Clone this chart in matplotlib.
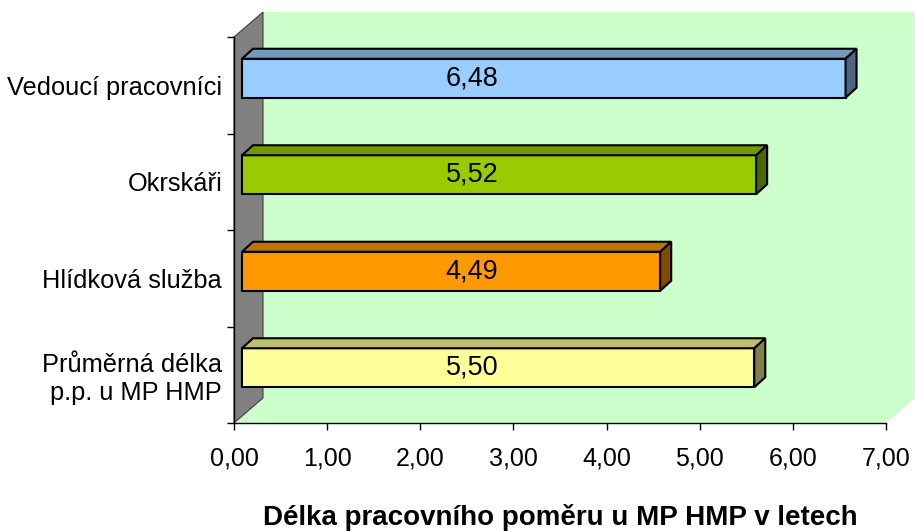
import matplotlib
matplotlib.use("Agg")
import matplotlib.pyplot as plt
from matplotlib.patches import Polygon
from matplotlib.colors import to_rgb

plt.rcParams["font.family"] = ["Liberation Sans", "DejaVu Sans"]

categories = ["Průměrná délka\np.p. u MP HMP", "Hlídková služba", "Okrskáři",
              "Vedoucí pracovníci"]
values = [5.50, 4.49, 5.52, 6.48]
colors = ["#FFFF99", "#FF9900", "#99CC00", "#99CCFF"]
xticks = [0, 1, 2, 3, 4, 5, 6, 7]
xlabel = "Délka pracovního poměru u MP HMP v letech"

W, H = 915, 531
fig = plt.figure(figsize=(W / 100, H / 100), dpi=100)
fig.patch.set_facecolor("white")

# front plane of the 3D box in pixels
L, R, T, B = 234, 886, 37, 423
ax = fig.add_axes([L / W, (H - B) / H, (R - L) / W, (B - T) / H])
ax.set_xlim(0, 7)
ax.set_ylim(0, 4)
ax.patch.set_visible(False)

PX = (R - L) / 7
PY = (B - T) / 4
DX, DY = 29 / PX, 25 / PY          # wall depth
BX, BY = 8 / PX, 7 / PY            # bar front offset
BDX, BDY = 11 / PX, 10 / PY        # bar depth
BH = 39 / PY                       # bar height

GREEN = "#CCFFCC"
# back wall + floor
ax.add_patch(Polygon([(DX, DY), (7 + DX, DY), (7 + DX, 4 + DY), (DX, 4 + DY)],
                     closed=True, fc=GREEN, ec="none", clip_on=False, zorder=0))
ax.add_patch(Polygon([(0, 0), (7, 0), (7 + DX, DY), (DX, DY)],
                     closed=True, fc=GREEN, ec="none", clip_on=False, zorder=0))
# side wall
ax.add_patch(Polygon([(0, 0), (DX, DY), (DX, 4 + DY), (0, 4)],
                     closed=True, fc="#808080", ec="#404040", lw=0.8,
                     clip_on=False, zorder=1))


def shade(c, f):
    r, g, b = to_rgb(c)
    return (r * f, g * f, b * f)


ys = [i + 0.5 for i in range(len(values))]
for y, v, c in zip(ys, values, colors):
    y0 = y + BY - BH / 2
    y1 = y + BY + BH / 2
    ax.barh(y + BY, v, height=BH, left=BX, color=c, edgecolor="black",
            linewidth=1.5, zorder=3)
    top = [(BX, y1), (BX + v, y1), (BX + v + BDX, y1 + BDY), (BX + BDX, y1 + BDY)]
    side = [(BX + v, y0), (BX + v + BDX, y0 + BDY), (BX + v + BDX, y1 + BDY),
            (BX + v, y1)]
    ax.add_patch(Polygon(top, closed=True, fc=shade(c, 0.75), ec="black",
                         lw=1.5, zorder=3, clip_on=False))
    ax.add_patch(Polygon(side, closed=True, fc=shade(c, 0.5), ec="black",
                         lw=1.5, zorder=3, clip_on=False))
    ax.text(2.555, y + BY, f"{v:.2f}".replace(".", ","), ha="center",
            va="center", fontsize=19.5, color="black", zorder=4)

for s in ("top", "right"):
    ax.spines[s].set_visible(False)
for s in ("left", "bottom"):
    ax.spines[s].set_color("black")
    ax.spines[s].set_linewidth(1.0)
    ax.spines[s].set_zorder(2)

ax.set_xticks(xticks)
ax.set_xticklabels([f"{t:.2f}".replace(".", ",") for t in xticks], fontsize=18)
ax.tick_params(axis="x", direction="out", length=5, width=1, pad=12)

ax.set_yticks(ys)
ax.set_yticklabels(categories, fontsize=18.3)
ax.set_yticks([0, 1, 2, 3, 4], minor=True)
ax.tick_params(axis="y", which="major", length=0, pad=8.5)
ax.tick_params(axis="y", which="minor", direction="out", length=5, width=1)

ax.set_xlabel(xlabel, fontsize=20, fontweight="bold", labelpad=24)

fig.savefig("out.png", dpi=100)
